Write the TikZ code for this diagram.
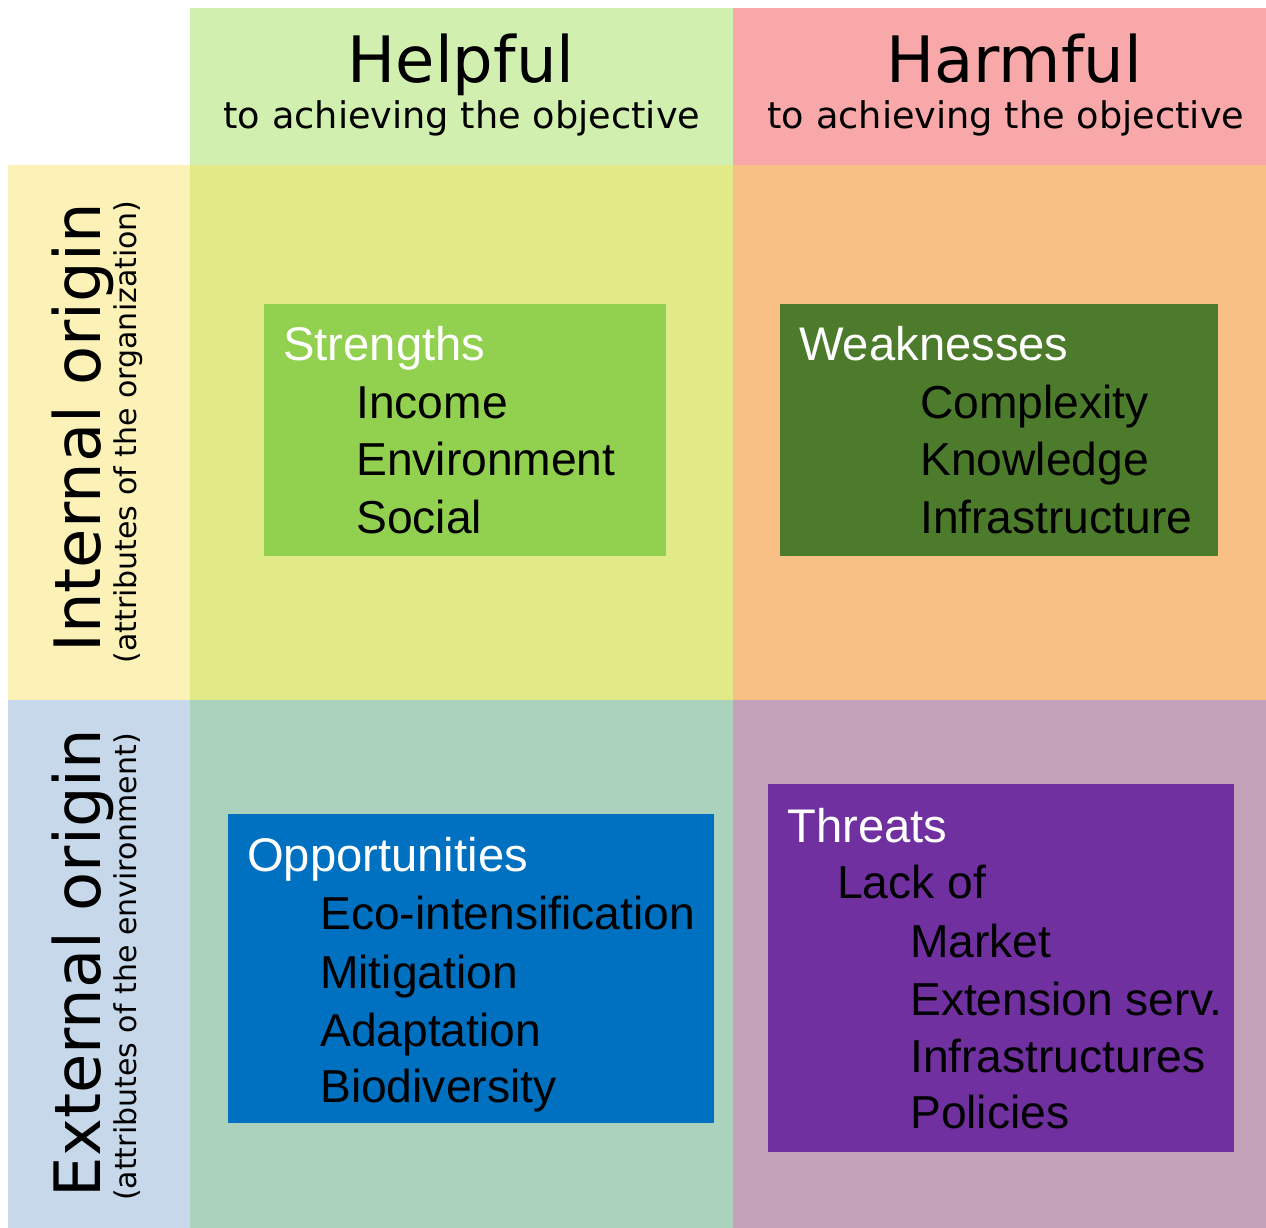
\documentclass[tikz,border=0pt]{standalone}
\usepackage{fontspec}
\setmainfont{DejaVu Sans}
\newfontfamily\listfont{Liberation Sans}

\definecolor{helpcol}{HTML}{D1F0AF}
\definecolor{harmcol}{HTML}{F8A8A8}
\definecolor{intcol}{HTML}{FCF2B8}
\definecolor{extcol}{HTML}{C6D8EA}
\definecolor{squad}{HTML}{E1EA86}
\definecolor{wquad}{HTML}{F8C084}
\definecolor{oquad}{HTML}{AAD2BC}
\definecolor{tquad}{HTML}{C3A2BA}
\definecolor{sbox}{HTML}{92D050}
\definecolor{wbox}{HTML}{4C7B2B}
\definecolor{obox}{HTML}{0070C0}
\definecolor{tbox}{HTML}{7030A0}

\newcommand{\headsize}{\fontsize{64}{64}\selectfont}
\newcommand{\subheadsize}{\fontsize{36.7}{36.7}\selectfont}
\newcommand{\sidesubsize}{\fontsize{30}{30}\selectfont}
\newcommand{\listsize}{\listfont\fontsize{46.2}{46.2}\selectfont}
\newcommand{\boxheadsize}{\listfont\fontsize{47.2}{47.2}\selectfont}

\begin{document}
\begin{tikzpicture}[x=1pt,y=-1pt]
        \useasboundingbox (0,0) rectangle (1266,1228);
        % fields of the grid
        \fill[helpcol] (190,8) rectangle (733,165);
        \fill[harmcol] (733,8) rectangle (1266,165);
        \fill[intcol] (8,165) rectangle (190,700);
        \fill[extcol] (8,700) rectangle (190,1228);
        \fill[squad] (190,165) rectangle (733,700);
        \fill[wquad] (733,165) rectangle (1266,700);
        \fill[oquad] (190,700) rectangle (733,1228);
        \fill[tquad] (733,700) rectangle (1266,1228);
        % coloured boxes
        \fill[sbox] (264,304) rectangle (666,556);
        \fill[wbox] (780,304) rectangle (1218,556);
        \fill[obox] (228,814) rectangle (714,1123);
        \fill[tbox] (768,784) rectangle (1234,1152);
        \begin{scope}[every node/.style={inner sep=0,anchor=base}]
            \node (helpful) [font=\headsize] at (461,83) {Helpful};
            \node (helpsub) [font=\subheadsize] at (462,129) {to achieving the objective};
            \node (harmful) [font=\headsize] at (1014,83) {Harmful};
            \node (harmsub) [font=\subheadsize] at (1006,129) {to achieving the objective};
            \node (internal) [font=\headsize,rotate=90] at (100,428) {Internal origin};
            \node (intsub) [font=\sidesubsize,rotate=90] at (136,432) {(attributes of the organization)};
            \node (external) [font=\headsize,rotate=90] at (100,963) {External origin};
            \node (extsub) [font=\sidesubsize,rotate=90] at (136,967) {(attributes of the environment)};
        \end{scope}
        \begin{scope}[every node/.style={inner sep=0,anchor=base west,font=\listsize}]
            \node (s0) [white,font=\boxheadsize] at (283,360) {Strengths};
            \node (s1) at (356,418) {Income};
            \node (s2) at (356,475) {Environment};
            \node (s3) at (356,533) {Social};
            \node (w0) [white,font=\boxheadsize] at (799,360) {Weaknesses};
            \node (w1) at (920,418) {Complexity};
            \node (w2) at (920,475) {Knowledge};
            \node (w3) at (920,533) {Infrastructure};
            \node (o0) [white,font=\boxheadsize] at (247,871) {Opportunities};
            \node (o1) at (320,929) {Eco-intensification};
            \node (o2) at (320,988) {Mitigation};
            \node (o3) at (320,1046) {Adaptation};
            \node (o4) at (320,1102) {Biodiversity};
            \node (t0) [white,font=\boxheadsize] at (787,842) {Threats};
            \node (t1) at (837,898) {Lack of};
            \node (t2) at (910,957) {Market};
            \node (t3) at (910,1015) {Extension serv.};
            \node (t4) at (910,1072) {Infrastructures};
            \node (t5) at (910,1128) {Policies};
        \end{scope}
    \end{tikzpicture}
\end{document}
